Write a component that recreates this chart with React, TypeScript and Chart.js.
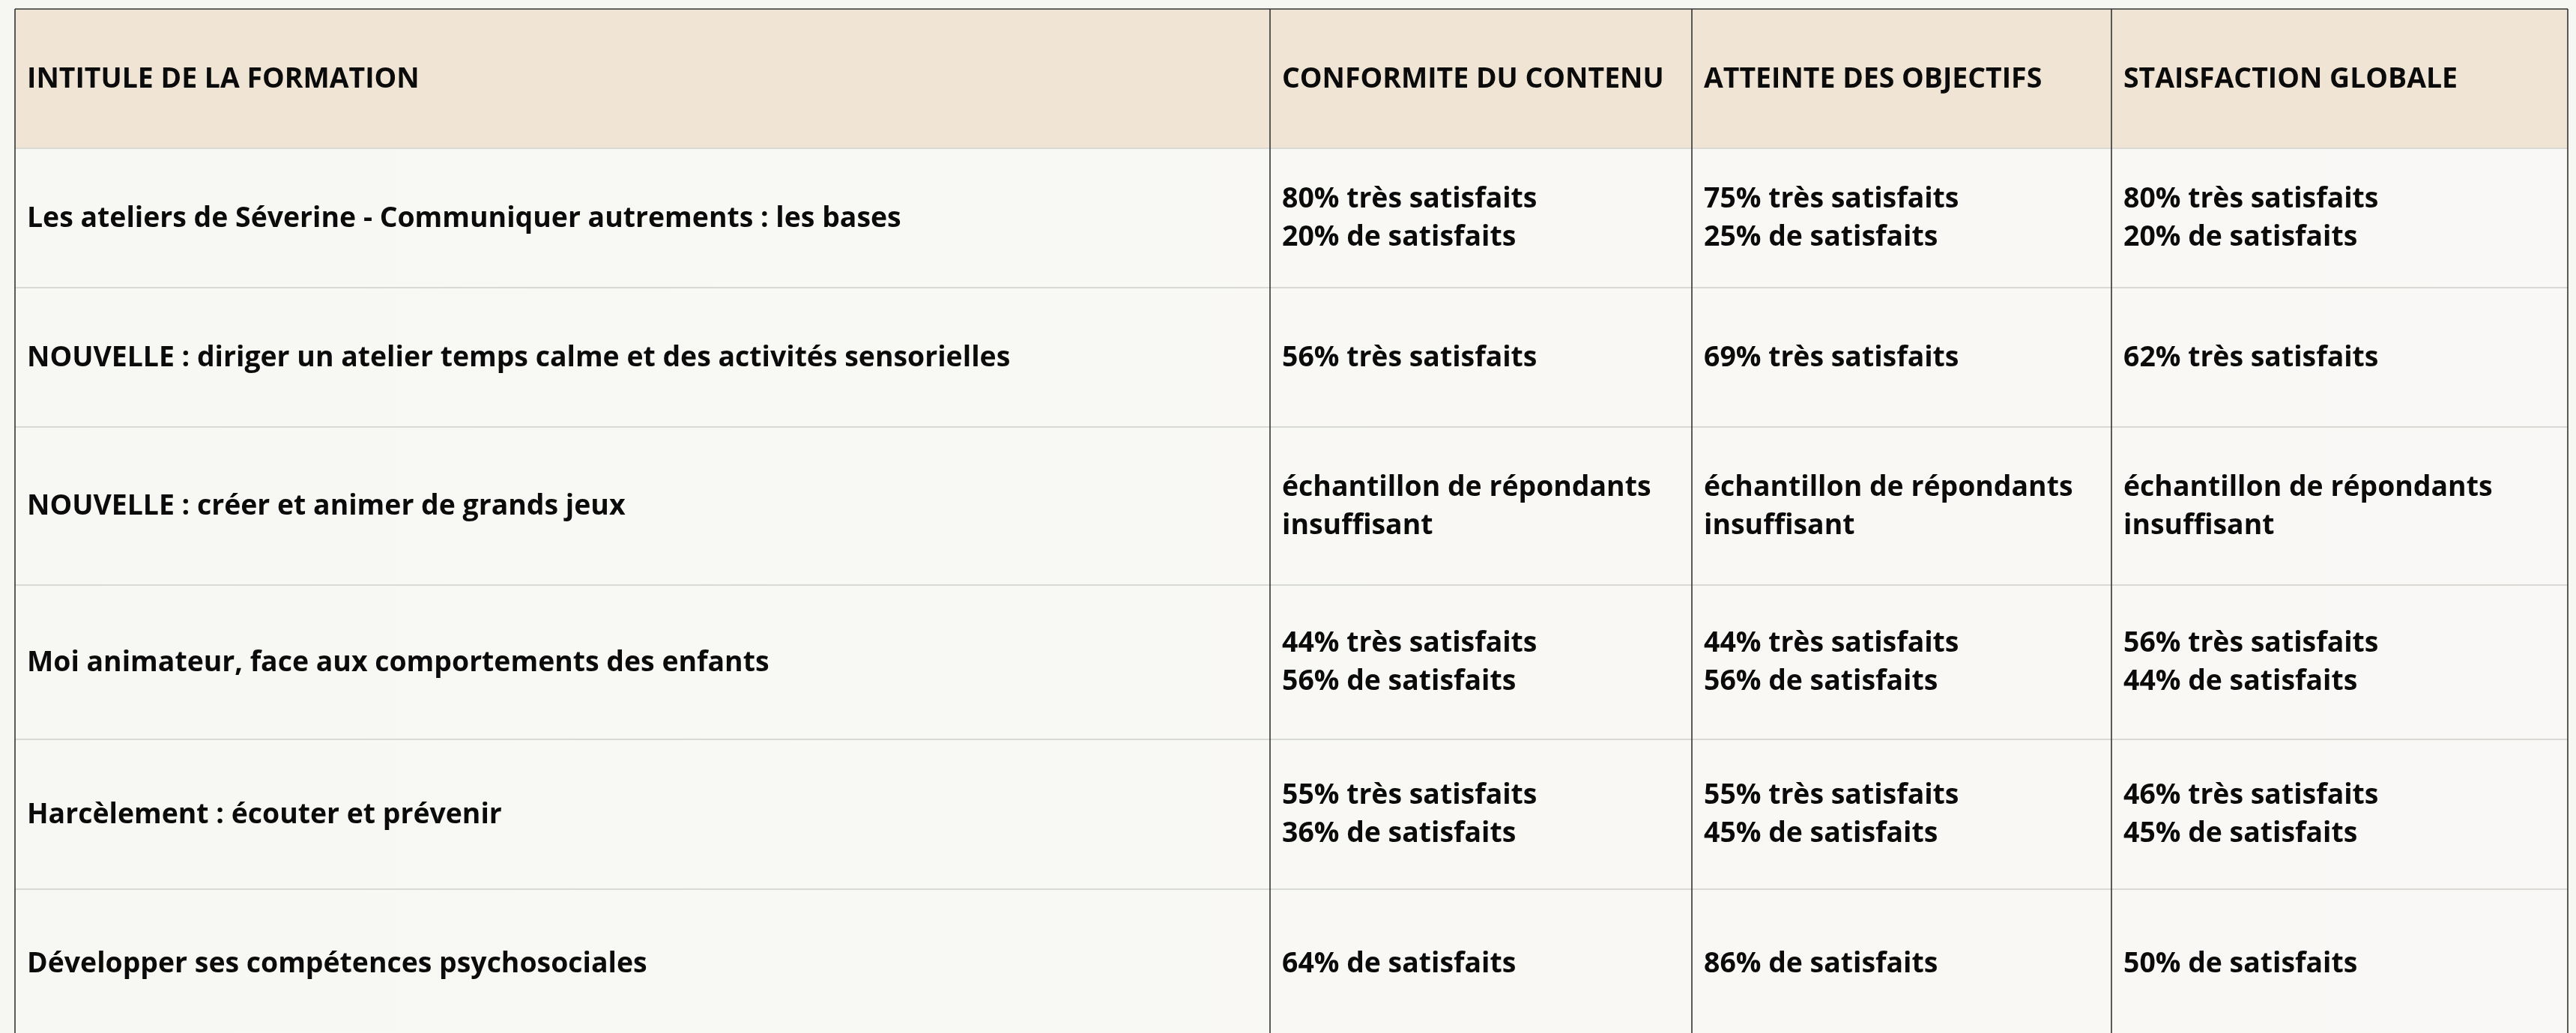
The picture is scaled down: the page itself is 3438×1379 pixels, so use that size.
import React, { useEffect, useRef } from "react";
import { Chart, registerables } from "chart.js";

Chart.register(...registerables);

// ---- data ----
const HEADERS = [
  "INTITULE DE LA FORMATION",
  "CONFORMITE DU CONTENU",
  "ATTEINTE DES OBJECTIFS",
  "STAISFACTION GLOBALE",
];

const FORMATIONS = [
  "Les ateliers de Séverine - Communiquer autrements : les bases",
  "NOUVELLE : diriger un atelier temps calme et des activités sensorielles",
  "NOUVELLE : créer et animer de grands jeux",
  "Moi animateur, face aux comportements des enfants",
  "Harcèlement : écouter et prévenir",
  "Développer ses compétences psychosociales",
];

const CONFORMITE = [
  "80% très satisfaits\n20% de satisfaits",
  "56% très satisfaits",
  "échantillon de répondants\ninsuffisant",
  "44% très satisfaits\n56% de satisfaits",
  "55% très satisfaits\n36% de satisfaits",
  "64% de satisfaits",
];

const OBJECTIFS = [
  "75% très satisfaits\n25% de satisfaits",
  "69% très satisfaits",
  "échantillon de répondants\ninsuffisant",
  "44% très satisfaits\n56% de satisfaits",
  "55% très satisfaits\n45% de satisfaits",
  "86% de satisfaits",
];

const GLOBALE = [
  "80% très satisfaits\n20% de satisfaits",
  "62% très satisfaits",
  "échantillon de répondants\ninsuffisant",
  "56% très satisfaits\n44% de satisfaits",
  "46% très satisfaits\n45% de satisfaits",
  "50% de satisfaits",
];

// ---- layout (scale units) ----
const W = 3438;
const H = 1379;
const COL_EDGES = [20, 1695, 2258, 2818, 3427];
const ROW_EDGES = [12, 198, 384, 570, 781, 987, 1187, 1385];
const TEXT_PAD = 16;
const LINE_H = 51;
const BASE_OFF = 11.5;

// ---- styles ----
const PAGE_BG = "#f6f7f2";
const HEAD_BG = "#f0e5d4";
const BODY_BG_L = "#f7f8f3";
const BODY_BG_R = "#faf8f6";
const DARK_LINE = "#333333";
const LIGHT_LINE = "#d9d9d6";
const TEXT_COLOR = "#0b0b0b";
const FONT = "bold 37.4px 'Open Sans'";

const tablePlugin = {
  id: "tablePlugin",
  beforeDraw(chart: any) {
    const { ctx } = chart;
    const xs = chart.scales.x;
    const ys = chart.scales.y;
    const px = (v: number) => xs.getPixelForValue(v);
    const py = (v: number) => ys.getPixelForValue(v);

    const rows: string[][] = [
      HEADERS,
      ...FORMATIONS.map((f, i) => [f, CONFORMITE[i], OBJECTIFS[i], GLOBALE[i]]),
    ];

    ctx.save();
    ctx.fillStyle = PAGE_BG;
    ctx.fillRect(0, 0, chart.width, chart.height);

    const tl = px(COL_EDGES[0]);
    const tr = px(COL_EDGES[COL_EDGES.length - 1]);
    const tt = py(ROW_EDGES[0]);
    const tb = py(ROW_EDGES[ROW_EDGES.length - 1]);

    // cell backgrounds
    const grad = ctx.createLinearGradient(tl, 0, tr, 0);
    grad.addColorStop(0, BODY_BG_L);
    grad.addColorStop(1, BODY_BG_R);
    rows.forEach((cells, r) => {
      const top = py(ROW_EDGES[r]);
      const bot = py(ROW_EDGES[r + 1]);
      cells.forEach((_, c) => {
        const l = px(COL_EDGES[c]);
        const rr = px(COL_EDGES[c + 1]);
        ctx.fillStyle = r === 0 ? HEAD_BG : grad;
        ctx.fillRect(l, top, rr - l, bot - top);
      });
    });

    // row separators
    ctx.strokeStyle = LIGHT_LINE;
    ctx.lineWidth = 2;
    for (let r = 1; r < ROW_EDGES.length - 1; r++) {
      const y = py(ROW_EDGES[r]);
      ctx.beginPath();
      ctx.moveTo(tl, y);
      ctx.lineTo(tr, y);
      ctx.stroke();
    }

    // column dividers and outer border
    ctx.strokeStyle = DARK_LINE;
    ctx.lineWidth = 1.6;
    for (let c = 0; c < COL_EDGES.length; c++) {
      const x = px(COL_EDGES[c]);
      ctx.beginPath();
      ctx.moveTo(x, tt);
      ctx.lineTo(x, tb);
      ctx.stroke();
    }
    ctx.beginPath();
    ctx.moveTo(tl, tt);
    ctx.lineTo(tr, tt);
    ctx.stroke();

    // text
    ctx.font = FONT;
    ctx.fillStyle = TEXT_COLOR;
    ctx.textAlign = "left";
    ctx.textBaseline = "alphabetic";
    rows.forEach((cells, r) => {
      const center = (ROW_EDGES[r] + ROW_EDGES[r + 1]) / 2;
      cells.forEach((txt, c) => {
        const lines = txt.split("\n");
        const x = px(COL_EDGES[c] + TEXT_PAD);
        lines.forEach((line, k) => {
          const yv = center + BASE_OFF + (k - (lines.length - 1) / 2) * LINE_H;
          ctx.fillText(line, x, py(yv));
        });
      });
    });
    ctx.restore();
  },
};

export default function App() {
  const ref = useRef<HTMLCanvasElement | null>(null);

  useEffect(() => {
    if (!ref.current) return;
    const chart = new Chart(ref.current, {
      type: "scatter",
      data: { datasets: [{ data: [], pointRadius: 0 }] },
      options: {
        animation: false,
        responsive: false,
        devicePixelRatio: 1,
        layout: { padding: 0 },
        plugins: { legend: { display: false }, tooltip: { enabled: false } },
        scales: {
          x: { type: "linear", display: false, min: 0, max: W },
          y: { type: "linear", display: false, min: 0, max: H, reverse: true },
        },
      },
      plugins: [tablePlugin],
    });
    return () => chart.destroy();
  }, []);

  return (
    <div style={{ position: "fixed", left: 0, top: 0, width: W, height: H, background: PAGE_BG }}>
      <canvas ref={ref} width={W} height={H} style={{ width: W, height: H, display: "block" }} />
    </div>
  );
}
